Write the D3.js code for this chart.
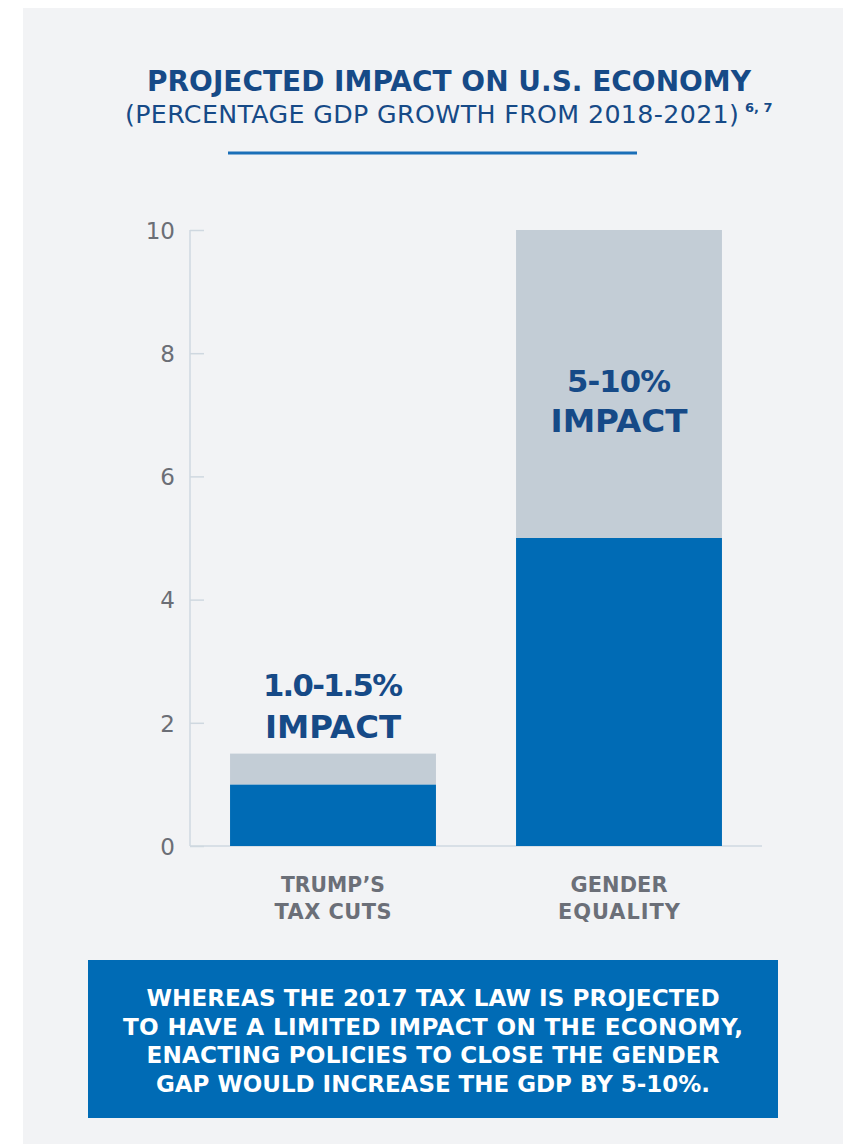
<!DOCTYPE html>
<html>
<head>
<meta charset="utf-8">
<script src="https://cdn.jsdelivr.net/npm/d3@7"></script>
<style>
  html, body { margin: 0; padding: 0; background: #ffffff; }
  svg { display: block; }
  text { font-family: "DejaVu Sans", "Open Sans", sans-serif; }
</style>
</head>
<body>
<svg id="chart" width="849" height="1144"></svg>
<script>
// Projected GDP growth range, 2018-2021 (percent)
const categories = ["TRUMP\u2019S\nTAX CUTS", "GENDER\nEQUALITY"];
const lowValues = [1.0, 5];
const highValues = [1.5, 10];
const rangeLabels = ["1.0-1.5%", "5-10%"];
const yTicks = [0, 2, 4, 6, 8, 10];
const summaryLines = [
  "WHEREAS THE 2017 TAX LAW IS PROJECTED",
  "TO HAVE A LIMITED IMPACT ON THE ECONOMY,",
  "ENACTING POLICIES TO CLOSE THE GENDER",
  "GAP WOULD INCREASE THE GDP BY 5-10%."
];

const C = {
  panel: "#f2f3f5",
  navy: "#164a87",
  blue: "#006bb5",
  grey: "#c3cdd6",
  axis: "#cfd8e0",
  tickText: "#6b6e76",
  catText: "#6b6f78"
};

const svg = d3.select("#chart");

// background panel
svg.append("rect").attr("x", 23).attr("y", 8).attr("width", 820).attr("height", 1136).attr("fill", C.panel);

// make a text span the given width: scale the font a little, then adjust letter spacing
function fitWidth(sel, target, minScale = 0.93, maxScale = 1.1) {
  const fs = parseFloat(sel.attr("font-size"));
  let w = sel.node().getComputedTextLength();
  const k = Math.max(minScale, Math.min(maxScale, target / w));
  sel.attr("font-size", (fs * k).toFixed(2));
  w = sel.node().getComputedTextLength();
  const n = sel.text().length;
  const ls = (target - w) / Math.max(1, n - 1);
  sel.attr("letter-spacing", ls.toFixed(2));
  if (sel.attr("text-anchor") === "middle") {
    sel.attr("dx", (ls / 2).toFixed(2));
  }
}

// title block
const t1 = svg.append("text").attr("x", 449).attr("y", 91).attr("text-anchor", "middle")
  .attr("font-size", 30).attr("font-weight", 700).attr("fill", C.navy)
  .text("PROJECTED IMPACT ON U.S. ECONOMY");
fitWidth(t1, 604);

const t2 = svg.append("text").attr("x", 125).attr("y", 123).attr("text-anchor", "start")
  .attr("font-size", 23).attr("font-weight", 400).attr("fill", C.navy)
  .text("(PERCENTAGE GDP GROWTH FROM 2018-2021)");
fitWidth(t2, 614);
svg.append("text").attr("x", 745).attr("y", 112).attr("font-size", 13)
  .attr("font-weight", 600).attr("fill", C.navy).text("6, 7");

svg.append("line").attr("x1", 228).attr("x2", 637).attr("y1", 153).attr("y2", 153)
  .attr("stroke", "#1a6fb8").attr("stroke-width", 3);

// scales
const x = d3.scaleBand().domain(categories).range([190, 762]).paddingInner(0.28).paddingOuter(0.14);
const y = d3.scaleLinear().domain([0, 10]).range([846, 230]);

// stacked segments: lower bound + remaining range
const rows = categories.map((c, i) => ({ cat: c, low: lowValues[i], extra: highValues[i] - lowValues[i] }));
const series = d3.stack().keys(["low", "extra"])(rows);
const segColor = { low: C.blue, extra: C.grey };

// y axis
const yAxis = d3.axisRight(y).tickValues(yTicks).tickSize(14).tickFormat(d3.format("d"));
const gy = svg.append("g").attr("transform", "translate(190,0)").call(yAxis);
gy.select(".domain").attr("stroke", C.axis).attr("stroke-width", 1.5).attr("d", "M0,230V846");
gy.selectAll(".tick line").attr("stroke", C.axis).attr("stroke-width", 1.5);
gy.selectAll(".tick text").attr("x", -15).attr("text-anchor", "end").attr("dy", "0.36em")
  .attr("font-size", 23).attr("font-family", "'DejaVu Sans', sans-serif").attr("fill", C.tickText);

// baseline
svg.append("line").attr("x1", 190).attr("x2", 762).attr("y1", y(0)).attr("y2", y(0))
  .attr("stroke", C.axis).attr("stroke-width", 1.5);

// bars
svg.append("g").selectAll("g").data(series).join("g")
  .attr("fill", s => segColor[s.key])
  .selectAll("rect").data(s => s).join("rect")
  .attr("x", d => x(d.data.cat))
  .attr("width", x.bandwidth())
  .attr("y", d => y(d[1]))
  .attr("height", d => y(d[0]) - y(d[1]));

// range labels
const labelPos = [
  { y1: y(highValues[0]) - 58, y2: y(highValues[0]) - 16, w1: 140, w2: 136 },
  { y1: y(highValues[1]) + 162, y2: y(highValues[1]) + 202, w1: 104, w2: 137 }
];
rangeLabels.forEach((lab, i) => {
  const cx = x(categories[i]) + x.bandwidth() / 2;
  const g = svg.append("g").attr("fill", C.navy).attr("font-weight", 700);
  const a = g.append("text").attr("x", cx).attr("y", labelPos[i].y1).attr("text-anchor", "middle")
    .attr("font-size", 33).text(lab);
  fitWidth(a, labelPos[i].w1);
  const b = g.append("text").attr("x", cx).attr("y", labelPos[i].y2).attr("text-anchor", "middle")
    .attr("font-size", 33).text("IMPACT");
  fitWidth(b, labelPos[i].w2);
});

// category labels
const catWidths = [[104, 117], [97, 122]];
categories.forEach((c, i) => {
  const cx = x(c) + x.bandwidth() / 2;
  c.split("\n").forEach((line, j) => {
    const t = svg.append("text").attr("x", cx).attr("y", 892 + j * 27).attr("text-anchor", "middle")
      .attr("font-size", 19).attr("font-weight", 700).attr("fill", C.catText).text(line);
    fitWidth(t, catWidths[i][j]);
  });
});

// summary box
const summaryWidths = [573, 620, 573, 554];
svg.append("rect").attr("x", 88).attr("y", 960).attr("width", 690).attr("height", 158).attr("fill", C.blue);
summaryLines.forEach((line, i) => {
  const t = svg.append("text").attr("x", 433).attr("y", 1006 + i * 28.7).attr("text-anchor", "middle")
    .attr("font-size", 21).attr("font-weight", 700).attr("fill", "#ffffff").text(line);
  fitWidth(t, summaryWidths[i]);
});
</script>
</body>
</html>
